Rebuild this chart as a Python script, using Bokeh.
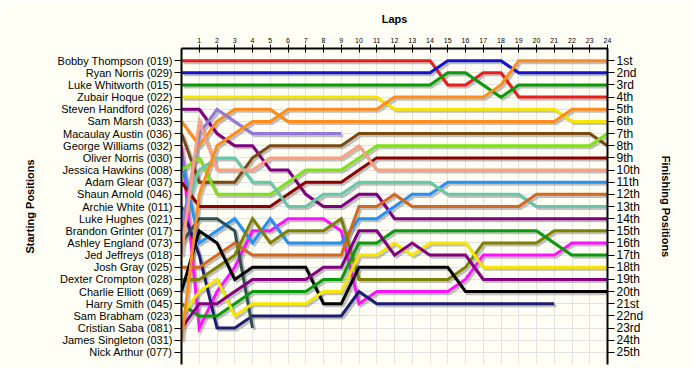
from bokeh.plotting import figure
from bokeh.models import ColumnDataSource, Range1d, LinearAxis, FixedTicker
from bokeh.transform import dodge
from bokeh.embed import file_html
from bokeh.resources import INLINE

# ---------------- data ----------------
drivers = ["Bobby Thompson (019)", "Ryan Norris (029)", "Luke Whitworth (015)", "Zubair Hoque (022)",
           "Steven Handford (026)", "Sam Marsh (033)", "Macaulay Austin (036)", "George Williams (032)",
           "Oliver Norris (030)", "Jessica Hawkins (008)", "Adam Glear (037)", "Shaun Arnold (046)",
           "Archie White (011)", "Luke Hughes (021)", "Brandon Grinter (017)", "Ashley England (073)",
           "Jed Jeffreys (018)", "Josh Gray (025)", "Dexter Crompton (028)", "Charlie Elliott (069)",
           "Harry Smith (045)", "Sam Brabham (023)", "Cristian Saba (081)", "James Singleton (031)",
           "Nick Arthur (077)"]
finish_labels = ["1st", "2nd", "3rd", "4th", "5th", "6th", "7th", "8th", "9th", "10th", "11th", "12th",
                 "13th", "14th", "15th", "16th", "17th", "18th", "19th", "20th", "21st", "22nd", "23rd",
                 "24th", "25th"]
lap_ticks = [1, 2, 3, 4, 5, 6, 7, 8, 9, 10, 11, 12, 13, 14, 15, 16, 17, 18, 19, 20, 21, 22, 23, 24]
position_ticks = [1, 2, 3, 4, 5, 6, 7, 8, 9, 10, 11, 12, 13, 14, 15, 16, 17, 18, 19, 20, 21, 22, 23, 24, 25]

# position at each lap (index = lap number, lap 0 = grid)
pos_thompson = [1, 1, 1, 1, 1, 1, 1, 1, 1, 1, 1, 1, 1, 1, 1, 3, 3, 2, 2, 4, 4, 4, 4, 4, 4]
pos_rnorris = [2, 2, 2, 2, 2, 2, 2, 2, 2, 2, 2, 2, 2, 2, 2, 1, 1, 1, 1, 2, 2, 2, 2, 2, 2]
pos_whitworth = [3, 3, 3, 3, 3, 3, 3, 3, 3, 3, 3, 3, 3, 3, 3, 2, 2, 3, 4, 3, 3, 3, 3, 3, 3]
pos_hoque = [4, 4, 4, 4, 4, 4, 4, 4, 4, 4, 4, 4, 5, 5, 5, 5, 5, 5, 5, 5, 5, 5, 6, 6, 6]
pos_handford = [5, 5, 7, 8, 8, 10, 10, 12, 13, 13, 12, 12, 14, 14, 14, 14, 14, 14, 14, 14, 14, 14, 14, 14, 14]
pos_marsh = [6, 8, 6, 5, 5, 5, 6, 6, 6, 6, 6, 6, 6, 6, 6, 6, 6, 6, 6, 6, 6, 6, 5, 5, 5]
pos_austin = [7, 11, 11, 11, 9, 8, 8, 8, 8, 8, 7, 7, 7, 7, 7, 7, 7, 7, 7, 7, 7, 7, 7, 7, 8]
pos_williams = [8, 23, 20, 18, 15, 15, 14, 14, 14, 15, 21, 20, 20, 20, 20, 20, 19, 17, 17, 17, 17, 17, 16, 16, 16]
pos_onorris = [9, 16, 15, 14, 16, 14, 16, 16, 16, 16, 14, 14, 13, 12, 12, 11, 11, 11, 11, 11, 11, 11, 11, 11, 11]
pos_hawkins = [10, 9, 12, 12, 12, 12, 11, 10, 10, 10, 9, 8, 8, 8, 8, 8, 8, 8, 8, 8, 8, 8, 8, 8, 7]
pos_glear = [11, 13, 13, 13, 13, 13, 12, 11, 11, 11, 10, 9, 9, 9, 9, 9, 9, 9, 9, 9, 9, 9, 9, 9, 9]
pos_white = [13, 17, 23, 23, 22, 22, 22, 22, 22, 22, 20, 21, 21, 21, 21, 21, 21, 21, 21, 21, 21, 21]
pos_hughes = [14, 10, 9, 9, 11, 11, 13, 13, 12, 12, 11, 11, 11, 11, 11, 12, 12, 12, 12, 12, 13, 13, 13, 13, 13]
pos_grinter = [15, 7, 5, 6, 7, 7, 7, 7, 7, 7]
pos_england = [16, 14, 14, 15, 23]
pos_jeffreys = [17, 6, 10, 10, 10, 9, 9, 9, 9, 9, 8, 10, 10, 10, 10, 10, 10, 10, 10, 10, 10, 10, 10, 10, 10]
pos_gray = [18, 18, 17, 16, 17, 17, 17, 17, 17, 17, 13, 13, 12, 13, 13, 13, 13, 13, 13, 13, 12, 12, 12, 12, 12]
pos_crompton = [19, 19, 18, 17, 14, 16, 15, 15, 15, 14, 19, 19, 19, 19, 19, 19, 18, 16, 16, 16, 16, 15, 15, 15, 15]
pos_elliott = [20, 15, 16, 19, 18, 18, 18, 18, 21, 21, 18, 18, 18, 18, 18, 18, 20, 20, 20, 20, 20, 20, 20, 20, 20]
pos_smith = [21, 22, 22, 21, 20, 20, 20, 20, 19, 19, 16, 16, 15, 15, 15, 15, 15, 15, 15, 15, 15, 16, 17, 17, 17]
pos_brabham = [22, 20, 19, 22, 21, 21, 21, 21, 20, 20, 17, 17, 16, 17, 16, 16, 16, 18, 18, 18, 18, 18, 18, 18, 18]
pos_saba = [23, 21, 21, 20, 19, 19, 19, 19, 18, 18, 15, 15, 17, 16, 17, 17, 17, 19, 19, 19, 19, 19, 19, 19, 19]
pos_singleton = [24, 12, 8, 7, 6, 6, 5, 5, 5, 5, 5, 5, 4, 4, 4, 4, 4, 4, 3, 1, 1, 1, 1, 1, 1]

series = [
    (pos_thompson, "#ec1c1c"), (pos_rnorris, "#1414cc"), (pos_whitworth, "#0a9a0a"),
    (pos_hoque, "#f7e600"), (pos_handford, "#800080"), (pos_marsh, "#ff8c1a"),
    (pos_austin, "#7a4a12"), (pos_williams, "#ff10ff"), (pos_onorris, "#2890f0"),
    (pos_hawkins, "#7fe01a"), (pos_glear, "#8b0000"), (pos_white, "#1c1c70"),
    (pos_hughes, "#66c8a8"), (pos_grinter, "#9478d8"), (pos_england, "#2f4f4f"),
    (pos_jeffreys, "#f8a080"), (pos_gray, "#d2691e"), (pos_crompton, "#808000"),
    (pos_elliott, "#000000"), (pos_smith, "#0a9a0a"), (pos_brabham, "#f7e600"),
    (pos_saba, "#800080"), (pos_singleton, "#ff8c1a"),
]

BG = "#fffff5"
FONT = "Liberation Sans"

p = figure(width=692, height=367, output_backend="svg", toolbar_location=None,
           x_range=Range1d(0, 24), y_range=Range1d(26, 0),
           x_axis_location="above", y_axis_location="left",
           min_border_left=181, min_border_right=85, min_border_top=48, min_border_bottom=3,
           background_fill_color=BG, border_fill_color=BG, outline_line_color=None)

# grid
p.xgrid.ticker = FixedTicker(ticks=lap_ticks)
p.ygrid.ticker = FixedTicker(ticks=position_ticks)
p.xgrid.grid_line_color = "#e2e2e2"
p.ygrid.grid_line_color = "#e2e2e2"

# lines with drop shadows
for pos, color in series:
    src = ColumnDataSource(data=dict(lap=list(range(len(pos))), pos=pos))
    p.line(x=dodge("lap", 0.12, range=p.x_range), y=dodge("pos", 0.17, range=p.y_range),
           source=src, line_color="#8c8c8c", line_alpha=0.55, line_width=3, line_join="miter")
for pos, color in series:
    src = ColumnDataSource(data=dict(lap=list(range(len(pos))), pos=pos))
    p.line(x="lap", y="pos", source=src, line_color=color, line_width=3, line_join="miter")

# top axis
xa = p.xaxis[0]
xa.ticker = FixedTicker(ticks=lap_ticks)
xa.axis_label = "Laps"
xa.axis_label_text_font = FONT
xa.axis_label_text_font_style = "bold"
xa.axis_label_text_font_size = "11px"
xa.axis_label_text_color = "black"
xa.axis_label_standoff = 10
xa.major_label_text_font = FONT
xa.major_label_text_font_size = "7px"
xa.major_label_text_color = "black"
xa.major_label_standoff = 2
xa.major_tick_in = 4
xa.major_tick_out = 4
xa.minor_tick_line_color = None
xa.axis_line_width = 2
xa.major_tick_line_width = 1

# left axis
ya = p.yaxis[0]
ya.ticker = FixedTicker(ticks=position_ticks)
ya.major_label_overrides = {i + 1: name for i, name in enumerate(drivers)}
ya.axis_label = "Starting Positions"
ya.axis_label_text_font = FONT
ya.axis_label_text_font_style = "bold"
ya.axis_label_text_font_size = "11px"
ya.axis_label_text_color = "black"
ya.axis_label_standoff = 19
ya.major_label_text_font = FONT
ya.major_label_text_font_size = "11px"
ya.major_label_text_color = "black"
ya.major_label_standoff = 2
ya.major_tick_in = 0
ya.major_tick_out = 7
ya.minor_tick_line_color = None
ya.axis_line_width = 2

# right axis
ra = LinearAxis(ticker=FixedTicker(ticks=position_ticks),
                major_label_overrides={i + 1: lab for i, lab in enumerate(finish_labels)})
ra.axis_label = "Finishing Positions"
ra.axis_label_text_font = FONT
ra.axis_label_text_font_style = "bold"
ra.axis_label_text_font_size = "11px"
ra.axis_label_text_color = "black"
ra.axis_label_standoff = 14
ra.major_label_text_font = FONT
ra.major_label_text_font_size = "12px"
ra.major_label_text_color = "black"
ra.major_label_standoff = 2
ra.major_tick_in = 0
ra.major_tick_out = 7
ra.minor_tick_line_color = None
ra.axis_line_width = 2
p.add_layout(ra, "right")

open("out.html", "w").write(file_html(p, INLINE))
